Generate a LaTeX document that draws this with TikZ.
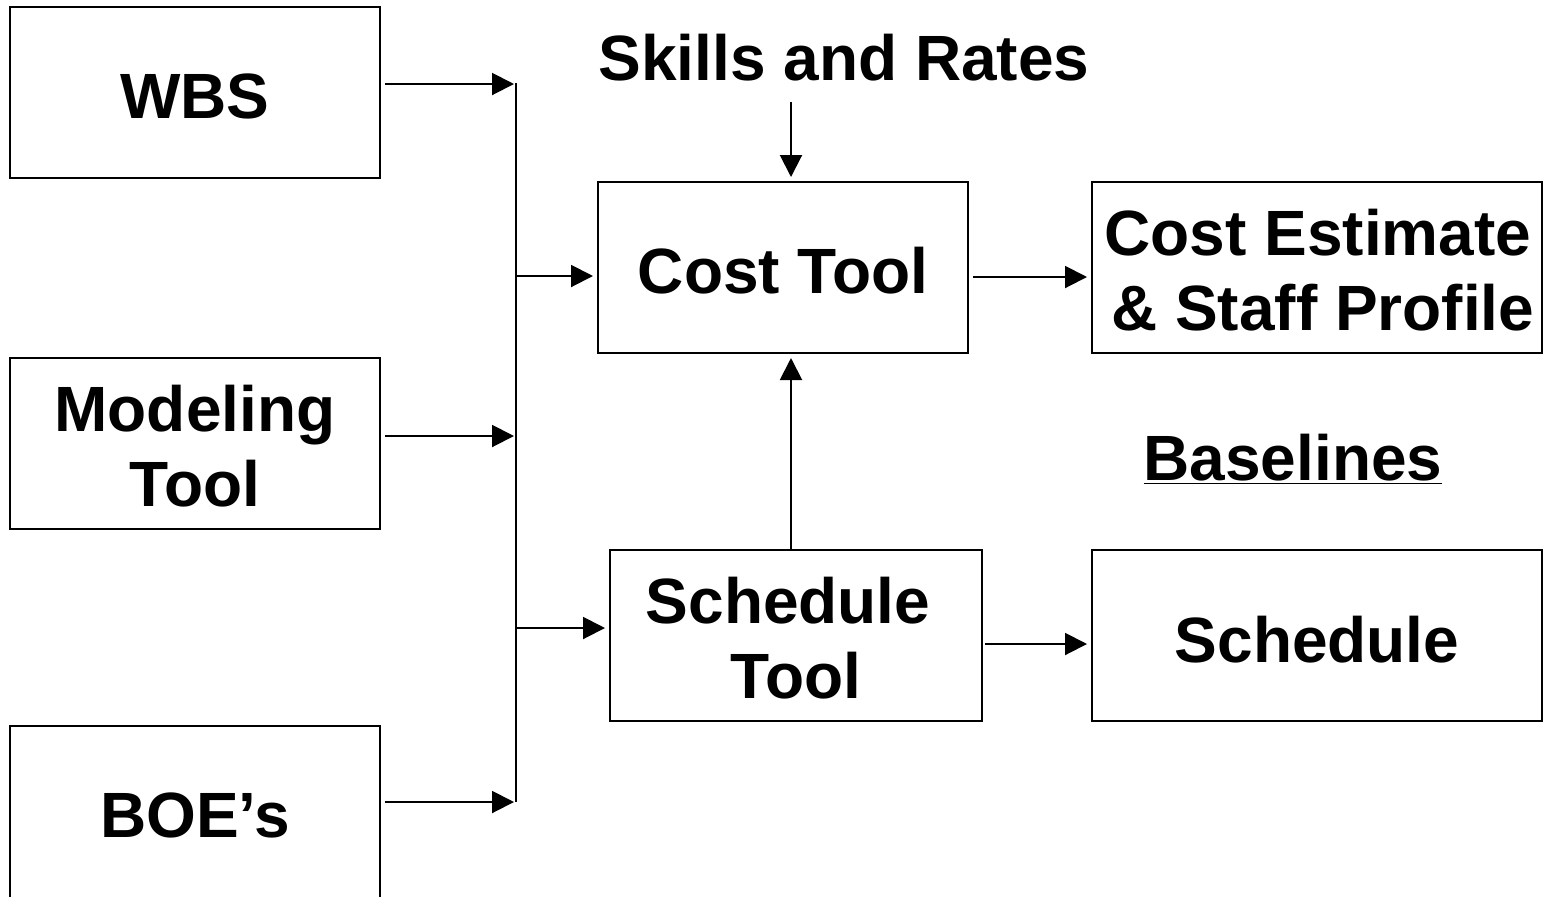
\documentclass[tikz,border=0pt]{standalone}
\usepackage{fontspec}
\setmainfont{Liberation Sans}
\usetikzlibrary{arrows.meta}
\begin{document}
\begin{tikzpicture}[x=0.5pt,y=-0.5pt,
 box/.style={draw,line width=1pt,minimum height=85.5pt,inner sep=0pt},
 lbl/.style={font=\fontsize{32}{37.5}\selectfont\bfseries,align=center,inner sep=0pt},
 arr/.style={line width=1pt,-{Triangle[length=11pt,width=11pt]}}]
\useasboundingbox (0,0) rectangle (1543,896);
\clip (0,0) rectangle (1543,896);
% boxes
\node[box,minimum width=185pt] (wbs) at (195,92) {};
\node[box,minimum width=185pt] (model) at (195,443.5) {};
\node[box,minimum width=185pt,minimum height=88pt] (boe) at (195,814) {};
\node[box,minimum width=185pt] (cost) at (783,267.5) {};
\node[box,minimum width=225pt] (est) at (1317,267.5) {};
\node[box,minimum width=186pt] (sched) at (796,635.5) {};
\node[box,minimum width=225pt] (schedout) at (1317,635.5) {};
% texts
\node[lbl,anchor=base] (wbst) at (195,118) {WBS};
\node[lbl] (modelt) at (195,446) {Modeling\\Tool};
\node[lbl,anchor=base] (boet) at (195,837) {BOE’s};
\node[lbl,anchor=base] (costt) at (783,293) {Cost Tool};
\node[lbl] (estt) at (1318,270) {Cost Estimate\\\hspace*{0.15em}\& Staff Profile};
\node[lbl] (schedt) at (788,638) {Schedule\\\hspace*{0.25em}Tool};
\node[lbl] (schedoutt) at (1317,640) {Schedule};
\node[lbl,anchor=base] (skills) at (844,80) {Skills and Rates};
\node[lbl,anchor=base] (base) at (1293,480) {\underline{Baselines}};
% bus
\coordinate (b1) at (516,84);
\coordinate (b2) at (516,436);
\coordinate (b3) at (516,802);
\coordinate (b4) at (516,276);
\coordinate (b5) at (516,628);
\coordinate (s1) at (791,102);
\draw[line width=1pt] ([yshift=0.5pt]b1) -- (b3);
\draw[arr,shorten <=2pt,shorten >=1pt] (wbs.east |- b1) -- (b1);
\draw[arr,shorten <=2pt,shorten >=1pt] (model.east |- b2) -- (b2);
\draw[arr,shorten <=2pt,shorten >=1pt] (boe.east |- b3) -- (b3);
\draw[arr,shorten >=2pt] (b4) -- (cost.west |- b4);
\draw[arr,shorten >=2pt] (b5) -- (sched.west |- b5);
\draw[arr,shorten >=2pt] (s1) -- (s1 |- cost.north);
\draw[arr,shorten >=2pt] (sched.north -| s1) -- (cost.south -| s1);
\draw[arr,shorten <=2pt,shorten >=2pt] ([yshift=-4.75pt]cost.east) -- ([yshift=-4.75pt]est.west);
\draw[arr,shorten <=1pt,shorten >=2pt] ([yshift=-4.25pt]sched.east) -- ([yshift=-4.25pt]schedout.west);
\end{tikzpicture}
\end{document}
